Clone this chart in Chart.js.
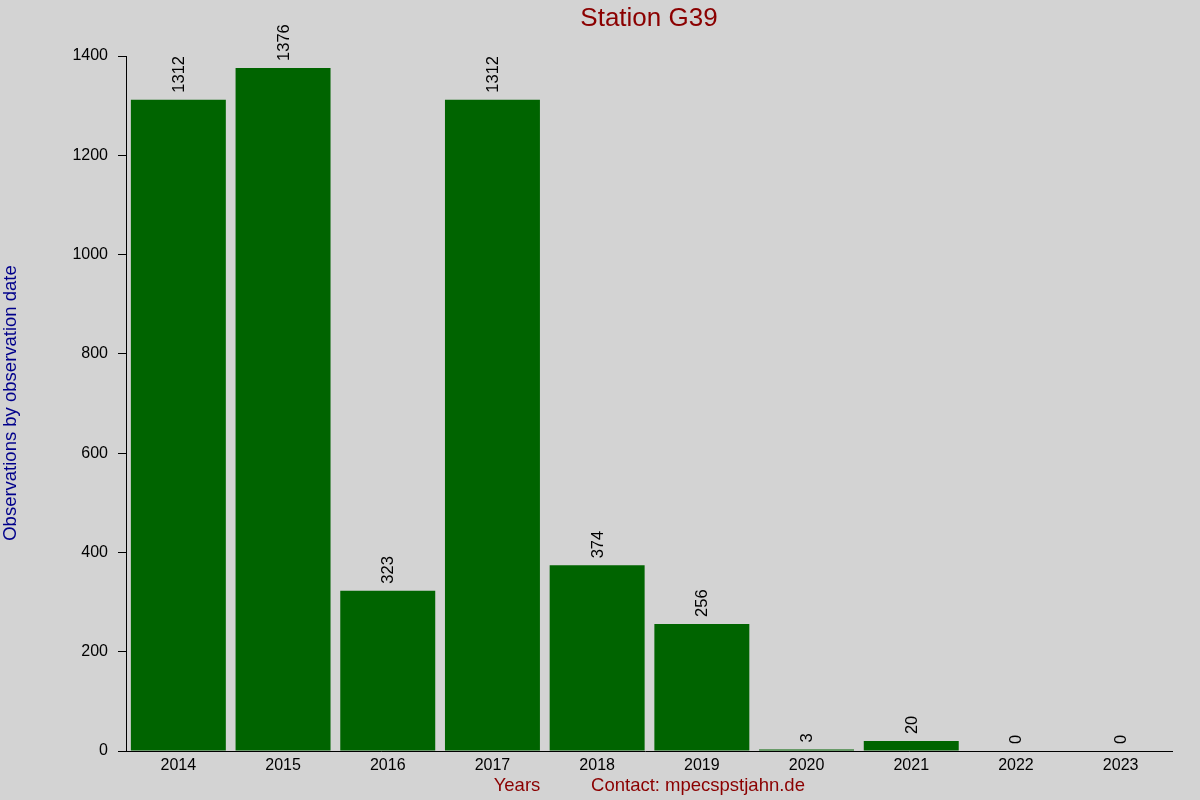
<!DOCTYPE html>
<html>
<head>
<meta charset="utf-8">
<script src="https://cdn.jsdelivr.net/npm/chart.js@4"></script>
<style>
html,body{margin:0;padding:0;background:#d3d3d3;}
#wrap{width:1200px;height:800px;position:relative;}
</style>
</head>
<body>
<div id="wrap"><canvas id="c" width="1200" height="800"></canvas></div>
<script>
const years = ['2014','2015','2016','2017','2018','2019','2020','2021','2022','2023'];
const observations = [1312, 1376, 323, 1312, 374, 256, 3, 20, 0, 0];
const yTicks = [0, 200, 400, 600, 800, 1000, 1200, 1400];
const chartTitle = 'Station G39';
const yTitle = 'Observations by observation date';
const xTitle = 'Years';
const contact = 'Contact: mpecspstjahn.de';

const FONT = '"Liberation Sans", Arial, sans-serif';

const decor = {
  id: 'decor',
  beforeDraw(chart) {
    const ctx = chart.ctx;
    ctx.save();
    ctx.fillStyle = '#d3d3d3';
    ctx.fillRect(0, 0, chart.width, chart.height);
    ctx.restore();
  },
  afterDraw(chart) {
    const ctx = chart.ctx;
    const area = chart.chartArea;
    const ys = chart.scales.y;
    ctx.save();
    // x axis line
    ctx.strokeStyle = '#000';
    ctx.lineWidth = 1;
    ctx.beginPath();
    ctx.moveTo(area.left - 8, ys.getPixelForValue(0) + 0.5);
    ctx.lineTo(area.right, ys.getPixelForValue(0) + 0.5);
    ctx.stroke();
    // value labels
    const meta = chart.getDatasetMeta(0);
    ctx.fillStyle = '#000';
    ctx.font = '16.5px ' + FONT;
    ctx.textAlign = 'left';
    ctx.textBaseline = 'middle';
    meta.data.forEach((bar, i) => {
      ctx.save();
      ctx.translate(bar.x + 1, bar.y - 7);
      ctx.rotate(-Math.PI / 2);
      ctx.fillText(String(observations[i]), 0, 0);
      ctx.restore();
    });
    // title
    ctx.fillStyle = '#8b0000';
    ctx.font = '26px ' + FONT;
    ctx.textAlign = 'center';
    ctx.fillText(chartTitle, 649, 19);
    // bottom texts
    ctx.font = '18.5px ' + FONT;
    ctx.fillText(xTitle, 517, 786);
    ctx.fillText(contact, 698, 786);
    // y title
    ctx.fillStyle = '#00008b';
    ctx.font = '18.5px ' + FONT;
    ctx.translate(11, 403);
    ctx.rotate(-Math.PI / 2);
    ctx.fillText(yTitle, 0, 0);
    ctx.restore();
  }
};

new Chart(document.getElementById('c'), {
  type: 'bar',
  data: {
    labels: years,
    datasets: [{
      data: observations,
      backgroundColor: '#006400',
      borderWidth: 0,
      barPercentage: 0.907,
      categoryPercentage: 1.0
    }]
  },
  options: {
    responsive: false,
    animation: false,
    devicePixelRatio: 1,
    layout: { padding: { left: 0, top: 56, right: 27, bottom: 0 } },
    plugins: { legend: { display: false }, title: { display: false }, tooltip: { enabled: false } },
    scales: {
      x: {
        grid: { display: false, drawTicks: false },
        border: { display: false },
        ticks: { color: '#000', font: { family: FONT, size: 16 }, padding: 5, maxRotation: 0 },
        afterFit(s) { s.height = 49; }
      },
      y: {
        min: 0, max: 1400,
        afterBuildTicks(s) { s.ticks = yTicks.map(v => ({ value: v })); },
        grid: { display: true, drawOnChartArea: false, drawTicks: true, tickLength: 8, color: '#000' },
        border: { display: true, color: '#000' },
        ticks: { color: '#000', font: { family: FONT, size: 16 }, padding: 10, callback: v => String(v) },
        afterFit(s) { s.width = 126; }
      }
    }
  },
  plugins: [decor]
});
</script>
</body>
</html>
